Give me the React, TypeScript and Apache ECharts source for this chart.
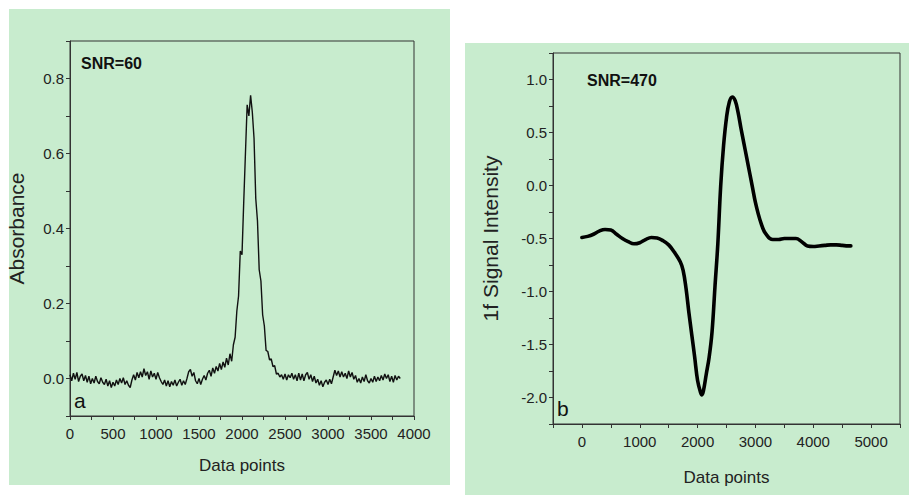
import React, { useEffect, useRef } from "react";
import * as echarts from "echarts";

// Panel a: absorbance, one value every 20 data points starting at 0
const absorbanceStep = 20;
const absorbance = [
  0.010, -0.006, 0.014, -0.002, 0.016, -0.008, 0.006, 0.012, -0.006, 0.008,
  -0.010, 0.006, -0.014, 0.000, -0.012, 0.006, -0.008, -0.014, 0.002, -0.010,
  -0.016, -0.002, -0.020, -0.006, -0.024, -0.010, -0.020, -0.004, -0.016, 0.000,
  -0.012, 0.002, -0.016, -0.006, -0.018, -0.024, -0.004, 0.010, -0.004, 0.016,
  0.002, 0.018, 0.004, 0.026, 0.008, 0.018, -0.002, 0.020, 0.004, 0.014,
  -0.002, 0.016, 0.002, -0.008, -0.016, -0.004, -0.020, -0.006, -0.022, -0.008,
  -0.018, -0.004, -0.020, -0.010, -0.002, -0.018, -0.006, -0.016, 0.000, 0.018,
  0.024, 0.006, 0.016, -0.006, -0.014, 0.000, -0.016, -0.002, 0.008, -0.004,
  0.014, 0.022, 0.006, 0.028, 0.014, 0.032, 0.020, 0.040, 0.024, 0.044,
  0.030, 0.054, 0.036, 0.066, 0.046, 0.090, 0.110, 0.180, 0.220, 0.340,
  0.330, 0.470, 0.600, 0.730, 0.700, 0.755, 0.710, 0.640, 0.480, 0.420,
  0.290, 0.260, 0.170, 0.140, 0.075, 0.072, 0.050, 0.052, 0.032, 0.034,
  0.012, 0.014, 0.004, 0.010, -0.002, 0.012, -0.004, 0.010, 0.002, 0.014,
  -0.002, 0.010, -0.006, 0.014, -0.004, 0.012, -0.006, 0.010, 0.016, -0.002,
  0.010, -0.008, 0.006, -0.012, -0.002, -0.018, -0.006, -0.022, -0.010, -0.004,
  -0.016, -0.002, -0.014, 0.004, 0.022, 0.008, 0.020, 0.004, 0.018, 0.004,
  0.014, 0.000, 0.020, 0.004, 0.016, -0.002, 0.008, -0.010, 0.000, -0.012,
  0.004, -0.008, 0.010, -0.006, -0.012, 0.000, -0.010, 0.006, -0.008, 0.004,
  -0.006, 0.008, -0.004, 0.012, 0.000, 0.010, -0.008, 0.006, -0.010, 0.008,
  -0.004, 0.006, 0.000,
];

// Panel b: 1f signal
const signalX = [
  0, 100, 200, 300, 400, 500, 600, 700, 800, 900, 1000, 1100, 1200, 1300, 1400,
  1500, 1600, 1700, 1750, 1800, 1850, 1900, 1950, 2000, 2050, 2075, 2100, 2150,
  2200, 2250, 2300, 2350, 2400, 2450, 2500, 2550, 2600, 2650, 2700, 2750, 2800,
  2850, 2900, 2950, 3000, 3050, 3100, 3150, 3200, 3250, 3300, 3400, 3500, 3600,
  3700, 3800, 3900, 4000, 4100, 4200, 4300, 4400, 4500, 4600, 4650,
];
const signalY = [
  -0.49, -0.48, -0.46, -0.43, -0.415, -0.42, -0.46, -0.5, -0.53, -0.55, -0.54,
  -0.51, -0.49, -0.495, -0.52, -0.56, -0.63, -0.72, -0.8, -0.97, -1.2, -1.41,
  -1.62, -1.84, -1.95, -1.975, -1.94, -1.78, -1.62, -1.38, -0.96, -0.55, 0.0,
  0.38, 0.64, 0.79, 0.835, 0.8, 0.69, 0.54, 0.4, 0.26, 0.12, -0.02, -0.16,
  -0.27, -0.36, -0.43, -0.47, -0.5, -0.51, -0.51, -0.5, -0.5, -0.5, -0.53,
  -0.57, -0.575, -0.57, -0.565, -0.56, -0.56, -0.565, -0.57, -0.57,
];

// Tick labels
const aYLabels = [0, 0.2, 0.4, 0.6, 0.8];
const aXLabels = [0, 500, 1000, 1500, 2000, 2500, 3000, 3500, 4000];
const bYLabels = [-2, -1.5, -1, -0.5, 0, 0.5, 1];
const bXLabels = [0, 1000, 2000, 3000, 4000, 5000];

const FONT = "'Liberation Sans', Arial, sans-serif";
const BG = "rgb(200,236,206)";
const AXIS = "#333";
const TEXT = "#222";

const near = (list: number[], v: number) => list.some((t) => Math.abs(t - v) < 1e-6);

function axisBase(labels: number[], digits: number, margin: number) {
  return {
    axisLine: { show: true, onZero: false, lineStyle: { color: AXIS, width: 1 } },
    axisTick: { show: true, length: 4, lineStyle: { color: AXIS } },
    splitLine: { show: false },
    axisLabel: {
      margin,
      color: TEXT,
      fontFamily: FONT,
      fontSize: 15,
      formatter: (v: number) => (near(labels, v) ? v.toFixed(digits) : ""),
    },
  };
}

export default function App() {
  const ref = useRef<HTMLDivElement>(null);

  useEffect(() => {
    if (!ref.current) return;
    const chart = echarts.init(ref.current, undefined, { renderer: "svg" });
    const dataA = absorbance.map((v, i) => [i * absorbanceStep, v]);
    const dataB = signalX.map((x, i) => [x, signalY[i]]);

    chart.setOption({
      animation: false,
      backgroundColor: "#fff",
      graphic: {
        elements: [
          { type: "rect", z: -100, shape: { x: 9, y: 9, width: 441, height: 476 }, style: { fill: BG } },
          { type: "rect", z: -100, shape: { x: 465, y: 43, width: 444, height: 452 }, style: { fill: BG } },
          { type: "text", z: 100, left: 81, top: 55, style: { text: "SNR=60", font: `bold 16px ${FONT}`, fill: "#111" } },
          { type: "text", z: 100, left: 587, top: 72, style: { text: "SNR=470", font: `bold 16px ${FONT}`, fill: "#111" } },
          { type: "text", z: 100, left: 74, top: 390, style: { text: "a", font: `21px ${FONT}`, fill: "#111" } },
          { type: "text", z: 100, left: 557, top: 398, style: { text: "b", font: `21px ${FONT}`, fill: "#111" } },
        ],
      },
      grid: [
        { left: 70, top: 41, width: 344, height: 375, show: true, borderColor: AXIS, borderWidth: 1, backgroundColor: "transparent" },
        { left: 553, top: 53, width: 347, height: 371, show: true, borderColor: AXIS, borderWidth: 1, backgroundColor: "transparent" },
      ],
      xAxis: [
        {
          type: "value", gridIndex: 0, min: 0, max: 4000, interval: 250,
          name: "Data points", nameLocation: "middle", nameGap: 41,
          nameTextStyle: { fontFamily: FONT, fontSize: 17, color: TEXT },
          ...axisBase(aXLabels, 0, 10),
        },
        {
          type: "value", gridIndex: 1, min: -500, max: 5500, interval: 500,
          name: "Data points", nameLocation: "middle", nameGap: 45,
          nameTextStyle: { fontFamily: FONT, fontSize: 17, color: TEXT },
          ...axisBase(bXLabels, 0, 10),
        },
      ],
      yAxis: [
        {
          type: "value", gridIndex: 0, min: -0.1, max: 0.9, interval: 0.1,
          name: "Absorbance", nameLocation: "middle", nameGap: 43, nameRotate: 90,
          nameTextStyle: { fontFamily: FONT, fontSize: 21, color: TEXT },
          ...axisBase(aYLabels, 1, 6),
        },
        {
          type: "value", gridIndex: 1, min: -2.25, max: 1.25, interval: 0.25,
          name: "1f Signal Intensity", nameLocation: "middle", nameGap: 52, nameRotate: 90,
          nameTextStyle: { fontFamily: FONT, fontSize: 21, color: TEXT },
          ...axisBase(bYLabels, 1, 6),
        },
      ],
      series: [
        {
          type: "line", xAxisIndex: 0, yAxisIndex: 0, data: dataA,
          showSymbol: false, symbol: "none",
          lineStyle: { color: "#111", width: 1.4 },
        },
        {
          type: "line", xAxisIndex: 1, yAxisIndex: 1, data: dataB,
          showSymbol: false, symbol: "none", smooth: 0.4,
          lineStyle: { color: "#000", width: 3.6, cap: "round", join: "round" },
        },
      ],
    });
    return () => chart.dispose();
  }, []);

  return (
    <div
      ref={ref}
      style={{ position: "fixed", left: 0, top: 0, width: 909, height: 495 }}
    />
  );
}
